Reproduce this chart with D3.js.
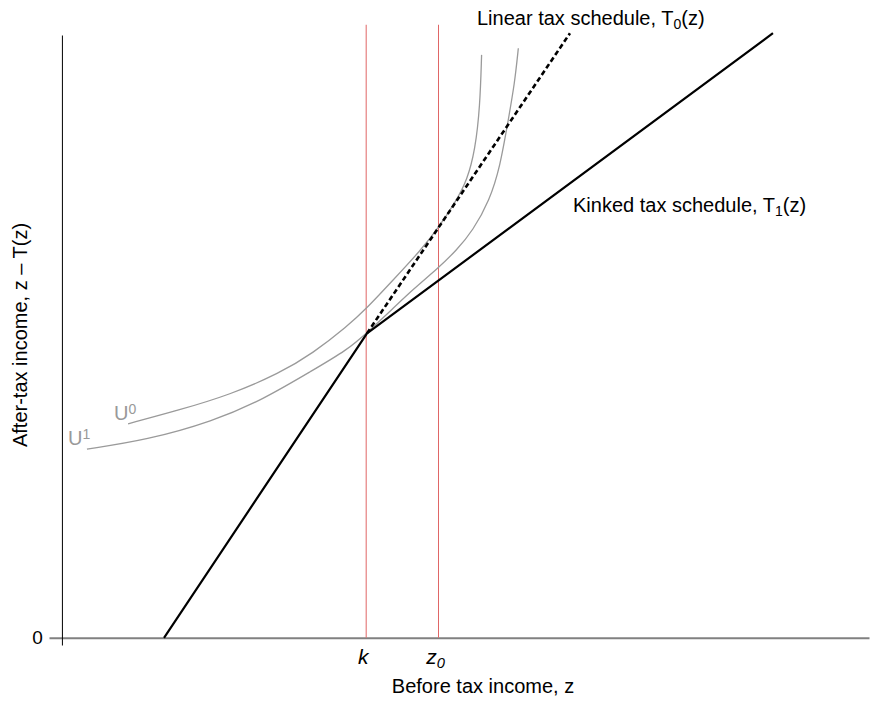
<!DOCTYPE html>
<meta charset="utf-8">
<style>
  body { margin: 0; background: #fff; }
  text { font-family: Arial, "Liberation Sans", sans-serif; }
</style>
<svg width="870" height="704"></svg>
<script src="https://d3js.org/d3.v7.min.js"></script>
<script>

// values (arbitrary income units)
var kinkedZ = [12.65, 37.8, 88.1],
    kinkedV = [0, 50.5, 100.3];

var linearZ = [37.8, 62.95],
    linearV = [50.5, 100.3];

var markerLabels = ["k", "z0"],
    markerZ = [37.7, 46.66],
    markerTop = 101.7;

var u0Z = [8.2, 14.6, 20.8, 27.0, 31.1, 35.3, 37.8, 41.0, 44.4, 46.6, 48.9, 50.2, 51.2, 51.8, 52.0],
    u0V = [35.5, 37.8, 40.3, 43.9, 47.2, 51.6, 54.7, 59.3, 64.2, 67.9, 72.6, 75.9, 80.9, 88.1, 96.7];

var u1Z = [3.1, 10.5, 18.7, 24.9, 31.1, 35.3, 37.8, 41.0, 43.5, 46.6, 48.9, 50.9, 53.0, 54.3, 55.3, 56.1, 56.55],
    u1V = [31.3, 32.8, 35.9, 39.5, 44.4, 47.7, 50.6, 54.6, 57.8, 61.3, 64.3, 67.5, 72.6, 78.2, 85.9, 92.0, 97.8];

var svg = d3.select("svg");

var x = d3.scaleLinear().domain([-1.6, 100]).range([49, 869]),
    y = d3.scaleLinear().domain([-1.2, 100]).range([645, 35]);

var pts = function(zs, vs) { return zs.map(function(z, i) { return [z, vs[i]]; }); };

var line = d3.line()
    .x(function(d) { return x(d[0]); })
    .y(function(d) { return y(d[1]); });

var curve = d3.line()
    .curve(d3.curveBasis)
    .x(function(d) { return x(d[0]); })
    .y(function(d) { return y(d[1]); });

// axes
var xAxis = svg.append("g")
    .attr("transform", "translate(0," + y(0) + ")")
    .call(d3.axisBottom(x).tickValues([]).tickSizeOuter(0));
xAxis.select(".domain").attr("stroke", "#808080").attr("stroke-width", 2);

var yAxis = svg.append("g")
    .attr("transform", "translate(" + x(0) + ",0)")
    .call(d3.axisLeft(y).tickValues([0]).tickSize(0).tickPadding(19).tickSizeOuter(0));
yAxis.select(".domain").attr("stroke", "#000").attr("stroke-width", 1);
yAxis.selectAll(".tick text")
    .attr("font-family", "Arial, 'Liberation Sans', sans-serif")
    .attr("font-size", 19).attr("fill", "#000");

// red reference lines at k and z0
svg.selectAll(".marker")
    .data(markerZ)
    .enter().append("line")
      .attr("class", "marker")
      .attr("x1", function(d) { return x(d); })
      .attr("x2", function(d) { return x(d); })
      .attr("y1", y(markerTop))
      .attr("y2", y(0))
      .attr("stroke", "#e06666")
      .attr("stroke-width", 1);

// indifference curves
[pts(u0Z, u0V), pts(u1Z, u1V)].forEach(function(p) {
  svg.append("path")
      .attr("d", curve(p))
      .attr("fill", "none")
      .attr("stroke", "#9a9a9a")
      .attr("stroke-width", 1.3);
});

// tax schedules
svg.append("path")
    .attr("d", line(pts(linearZ, linearV)))
    .attr("fill", "none")
    .attr("stroke", "#000")
    .attr("stroke-width", 2.6)
    .attr("stroke-dasharray", "5,3");

svg.append("path")
    .attr("d", line(pts(kinkedZ, kinkedV)))
    .attr("fill", "none")
    .attr("stroke", "#000")
    .attr("stroke-width", 2.2)
    .attr("stroke-linejoin", "round");

// labels
var lab = function(tx, ty, parts, opts) {
  var t = svg.append("text").attr("x", tx).attr("y", ty)
      .attr("font-size", opts.size || 20)
      .attr("fill", opts.fill || "#000");
  parts.forEach(function(p) {
    var s = t.append("tspan").text(p[0]);
    if (p[1] == "sub") s.attr("font-size", "0.7em").attr("dy", "0.25em");
    if (p[1] == "sup") s.attr("font-size", "0.7em").attr("dy", "-0.45em");
    if (p[1] == "back") s.attr("dy", p[2]);
  });
  return t;
};

lab(477, 25, [["Linear tax schedule, T"], ["0", "sub"], ["(z)", "back", "-0.175em"]], {});
lab(573, 212, [["Kinked tax schedule, T"], ["1", "sub"], ["(z)", "back", "-0.175em"]], {});
lab(114, 420, [["U"], ["0", "sup"]], { fill: "#999" });
lab(68, 445, [["U"], ["1", "sup"]], { fill: "#999" });

svg.append("text")
    .attr("x", 483).attr("y", 693)
    .attr("text-anchor", "middle")
    .attr("font-size", 20)
    .text("Before tax income, z");

svg.append("text")
    .attr("transform", "translate(27,335) rotate(-90)")
    .attr("text-anchor", "middle")
    .attr("font-size", 20)
    .text("After-tax income, z \u2013 T(z)");

// k and z0 under the axis, italic serif
markerZ.forEach(function(z, i) {
  var t = svg.append("text")
      .attr("x", x(z) - 3).attr("y", 664)
      .attr("text-anchor", "middle")
      .attr("font-family", "'Liberation Serif', 'DejaVu Serif', serif")
      .attr("font-style", "italic")
      .attr("font-size", 21);
  t.append("tspan").text(markerLabels[i].charAt(0));
  if (markerLabels[i].length > 1)
    t.append("tspan").attr("font-size", "0.7em").attr("dy", "0.25em").text(markerLabels[i].slice(1));
});

</script>
